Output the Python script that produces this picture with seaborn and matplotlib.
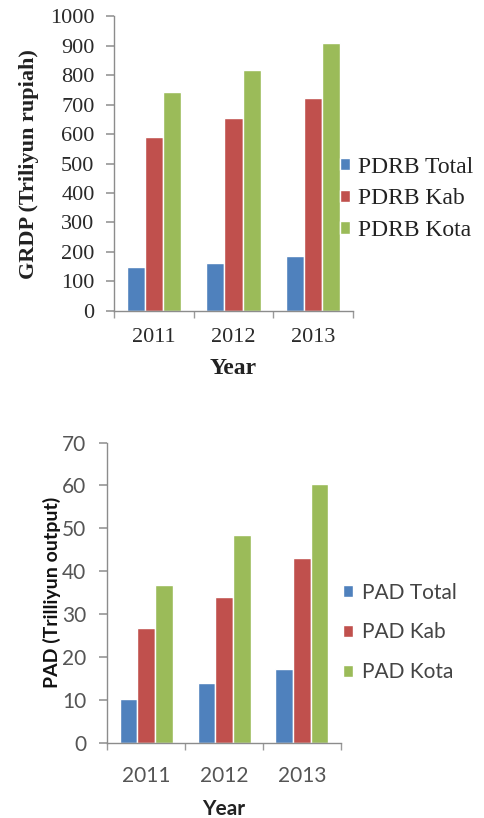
import matplotlib
matplotlib.use("Agg")
import matplotlib.pyplot as plt
import seaborn as sns
import pandas as pd
from matplotlib.ticker import FixedLocator

years = ["2011", "2012", "2013"]
pdrb_series = ["PDRB Total", "PDRB Kab", "PDRB Kota"]
pdrb_total = [149, 164, 185]
pdrb_kab = [592, 654, 722]
pdrb_kota = [742, 818, 908]

pad_series = ["PAD Total", "PAD Kab", "PAD Kota"]
pad_total = [10.1, 14.0, 17.1]
pad_kab = [26.7, 34.1, 43.0]
pad_kota = [36.8, 48.4, 60.3]

colors = ["#4F81BD", "#C0504D", "#9BBB59"]

sns.set_theme(style="white")

def long_df(series_names, arrays):
    rows = []
    for name, vals in zip(series_names, arrays):
        for y, v in zip(years, vals):
            rows.append({"Year": y, "series": name, "value": v})
    return pd.DataFrame(rows)

df1 = long_df(pdrb_series, [pdrb_total, pdrb_kab, pdrb_kota])
df2 = long_df(pad_series, [pad_total, pad_kab, pad_kota])

fig = plt.figure(figsize=(4.85, 8.18), dpi=100)
ax1 = fig.add_axes([0.235, 0.620, 0.493, 0.360])
ax2 = fig.add_axes([0.221, 0.092, 0.482, 0.367])

def style_axes(ax, ymax, step, family, tcolor, labelfs, ypad, xpad):
    ax.set_ylim(0, ymax)
    ax.set_xlim(-0.5, 2.5)
    ax.set_yticks(range(0, ymax + 1, step))
    for s in ["top", "right"]:
        ax.spines[s].set_visible(False)
    for s in ["left", "bottom"]:
        ax.spines[s].set_color("#8c8c8c")
        ax.spines[s].set_linewidth(1.0)
    ax.tick_params(axis="y", which="major", left=True, length=6, color="#9a9a9a",
                   labelsize=labelfs, labelcolor=tcolor, pad=ypad)
    ax.tick_params(axis="x", which="major", bottom=False, length=0,
                   labelsize=labelfs, labelcolor=tcolor, pad=xpad)
    ax.xaxis.set_minor_locator(FixedLocator([-0.5, 0.5, 1.5, 2.5]))
    ax.tick_params(axis="x", which="minor", bottom=True, length=5, color="#9a9a9a")
    for lab in ax.get_xticklabels() + ax.get_yticklabels():
        lab.set_fontfamily(family)

# Top chart
sns.barplot(data=df1, x="Year", y="value", hue="series", palette=colors,
            width=0.68, saturation=1, ax=ax1, gap=0)
style_axes(ax1, 1000, 100, "Liberation Serif", "#2a2a2a", 16, 8, 12)
ax1.set_ylabel("GRDP (Triliyun rupiah)", fontfamily="Liberation Serif",
               fontweight="bold", fontsize=16, color="#222222", labelpad=8)
ax1.set_xlabel("Year", fontfamily="Liberation Serif", fontweight="bold",
               fontsize=17, color="#222222", labelpad=8)
h, l = ax1.get_legend_handles_labels()
ax1.legend(h, l, loc="center left", bbox_to_anchor=(0.701, 0.757),
           bbox_transform=fig.transFigure, frameon=False, borderpad=0,
           borderaxespad=0,
           handlelength=0.42, handleheight=0.42, handletextpad=0.35,
           labelspacing=0.45, prop={"family": "Liberation Serif", "size": 17},
           labelcolor="#222222")

# Bottom chart
sns.barplot(data=df2, x="Year", y="value", hue="series", palette=colors,
            width=0.68, saturation=1, ax=ax2, gap=0)
style_axes(ax2, 70, 10, "Lato", "#555555", 15, 9, 17)
ax2.set_ylabel("PAD (Trilliyun output)", fontfamily="Lato",
               fontweight="bold", fontsize=14, color="#111111", labelpad=1)
ax2.set_xlabel("Year", fontfamily="Lato", fontweight="bold",
               fontsize=15, color="#222222", labelpad=9)
h, l = ax2.get_legend_handles_labels()
ax2.legend(h, l, loc="center left", bbox_to_anchor=(0.707, 0.227),
           bbox_transform=fig.transFigure, frameon=False, borderpad=0,
           borderaxespad=0,
           handlelength=0.5, handleheight=0.5, handletextpad=0.4,
           labelspacing=0.95, prop={"family": "Lato", "size": 15},
           labelcolor="#444444")

fig.savefig("out.png", dpi=100, facecolor="white")
